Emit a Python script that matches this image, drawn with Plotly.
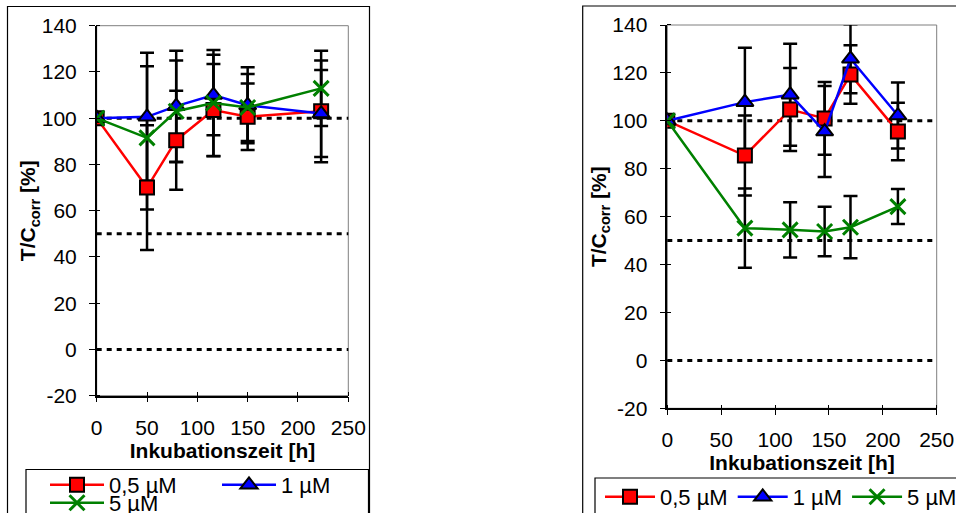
import plotly.graph_objects as go

# ---------------- data ----------------
x_left = [0, 50, 79, 116, 150, 223]
red_left = [100, 70, 90.5, 103.5, 100.6, 103]
red_left_err = [0, 27, 21.4, 19.9, 14.4, 22]
blue_left = [100, 100.6, 105.2, 110, 105.6, 102]
blue_left_err = [0, 27.7, 24, 17.4, 16.4, 18.8]
green_left = [100, 91.5, 103, 106.6, 104.6, 112.9]
green_left_err = [0, 31, 22, 22.9, 14.5, 16.3]

x_right = [0, 72, 114, 146, 170, 214]
red_right = [100, 85.5, 104.7, 101, 119.3, 95.5]
red_right_err = [0, 16.7, 17.3, 15.2, 12.2, 12]
blue_right = [100, 107.8, 110.9, 95.5, 125.9, 102.2]
blue_right_err = [0, 22.7, 21.3, 19, 14.4, 13.8]
green_right = [100, 55.2, 54.5, 53.8, 55.6, 64.2]
green_right_err = [0, 16.5, 11.5, 10.3, 13, 7.3]

series_names = ["0,5 µM", "1 µM", "5 µM"]
ref_lines = [100, 50, 0]
x_ticks = [0, 50, 100, 150, 200, 250]
y_ticks = [-20, 0, 20, 40, 60, 80, 100, 120, 140]
y_tick_labels = ["-20", "0", "20", "40", "60", "80", "100", "120", "140"]

# ---------------- styling ----------------
W, H = 956, 513
FONT = "Liberation Sans, Arial, sans-serif"
FS = 21
LFS = 22
colors = ["#FF0000", "#0000FF", "#008000"]
markers = [
    dict(symbol="square", size=14, line=dict(color="black", width=2)),
    dict(symbol="triangle-up", size=15, line=dict(color="black", width=2)),
    dict(symbol="x-thin", size=15, line=dict(width=3)),
]


def px_x(p):
    return p / W


def px_y(p):
    return 1 - p / H


fig = go.Figure()

panels = [
    dict(xa="x", ya="y", x=x_left,
         ys=[red_left, blue_left, green_left],
         es=[red_left_err, blue_left_err, green_left_err],
         legends=["legend", "legend", "legend3"]),
    dict(xa="x2", ya="y2", x=x_right,
         ys=[red_right, blue_right, green_right],
         es=[red_right_err, blue_right_err, green_right_err],
         legends=["legend2", "legend2", "legend2"]),
]

for p in panels:
    # error bars first (under the lines / markers)
    for ys, es in zip(p["ys"], p["es"]):
        fig.add_trace(go.Scatter(
            x=p["x"], y=ys, xaxis=p["xa"], yaxis=p["ya"], mode="markers",
            marker=dict(size=1, color="rgba(0,0,0,0)"),
            error_y=dict(type="data", array=es, visible=True, color="black",
                         thickness=2.5, width=7),
            showlegend=False, hoverinfo="skip"))
    for i, (ys, name, lg) in enumerate(zip(p["ys"], series_names, p["legends"])):
        mk = dict(markers[i])
        mk["color"] = colors[i]
        if i == 2:
            mk["line"] = dict(color=colors[i], width=3)
        fig.add_trace(go.Scatter(
            x=p["x"], y=ys, xaxis=p["xa"], yaxis=p["ya"], name=name,
            mode="lines+markers", line=dict(color=colors[i], width=2.5),
            marker=mk, legend=lg, showlegend=True))

# axes
left_plot = dict(x0=96.7, x1=348.3, y0=25.7, y1=395.7)
right_plot = dict(x0=667.3, x1=936.7, y0=25.0, y1=408.3)


def xaxis_cfg(dom, anchor):
    return dict(domain=[px_x(dom["x0"]), px_x(dom["x1"])], anchor=anchor,
                range=[0, 250], tickvals=x_ticks, ticks="outside", ticklen=5,
                tickwidth=1.3, tickcolor="black", showline=True, linecolor="black",
                linewidth=1.5, showgrid=False, zeroline=False,
                tickfont=dict(size=FS, color="black"),
                minor=dict(ticks="inside", tickvals=[v + 0.01 for v in x_ticks],
                           ticklen=4, tickwidth=1.3, tickcolor="black", showgrid=False),
                title=dict(text="<b>Inkubationszeit [h]</b>", font=dict(size=FS, color="black"),
                           standoff=3),
                automargin=True, ticklabelstandoff=7)


def yaxis_cfg(dom, anchor):
    return dict(domain=[px_y(dom["y1"]), px_y(dom["y0"])], anchor=anchor,
                range=[-20, 140], tickvals=y_ticks, ticktext=y_tick_labels,
                ticks="outside", ticklen=6,
                tickwidth=1.3, tickcolor="black", showline=True, linecolor="black",
                linewidth=1.5, showgrid=False, zeroline=False,
                tickfont=dict(size=FS, color="black"),
                minor=dict(ticks="inside", tickvals=[v + 0.01 for v in y_ticks],
                           ticklen=4, tickwidth=1.3, tickcolor="black", showgrid=False),
                title=dict(text="<b>T/C<sub>corr</sub> [%]</b>", font=dict(size=FS, color="black"),
                           standoff=0),
                automargin=True, ticklabelstandoff=8)


shapes = []
for xr, yr in [("x", "y"), ("x2", "y2")]:
    # plot-area border (grey)
    shapes.append(dict(type="rect", xref=f"{xr} domain", yref=f"{yr} domain",
                       x0=0, x1=1, y0=0, y1=1, line=dict(color="#7f7f7f", width=1),
                       layer="below"))
    for v in ref_lines:
        shapes.append(dict(type="line", xref=f"{xr} domain", yref=yr, x0=0, x1=1,
                           y0=v, y1=v, line=dict(color="black", width=3, dash="5px,5px"),
                           layer="below"))

# outer chart frames and legend boxes
shapes += [
    dict(type="rect", xref="paper", yref="paper", x0=px_x(7.5), x1=px_x(369.5),
         y0=px_y(530), y1=px_y(6.5), line=dict(color="black", width=1.2)),
    dict(type="rect", xref="paper", yref="paper", x0=px_x(26), x1=px_x(368.5),
         y0=px_y(530), y1=px_y(469.5), line=dict(color="black", width=1.2)),
    dict(type="rect", xref="paper", yref="paper", x0=px_x(582.7), x1=px_x(980),
         y0=px_y(530), y1=px_y(6), line=dict(color="black", width=1.2)),
    dict(type="rect", xref="paper", yref="paper", x0=px_x(595), x1=px_x(980),
         y0=px_y(530), y1=px_y(478), line=dict(color="black", width=1.2)),
]

leg_common = dict(orientation="h", font=dict(size=LFS, color="black", family=FONT),
                  bgcolor="rgba(0,0,0,0)", borderwidth=0, itemwidth=50,
                  xanchor="left", yanchor="middle", tracegroupgap=0)

fig.update_layout(
    width=W, height=H,
    margin=dict(l=0, r=0, t=0, b=0, pad=0, autoexpand=False),
    paper_bgcolor="white", plot_bgcolor="white",
    font=dict(family=FONT, size=FS, color="black"),
    xaxis=xaxis_cfg(left_plot, "y"),
    yaxis=yaxis_cfg(left_plot, "x"),
    xaxis2=xaxis_cfg(right_plot, "y2"),
    yaxis2=yaxis_cfg(right_plot, "x2"),
    shapes=shapes,
    legend=dict(leg_common, x=px_x(45), y=px_y(485), entrywidth=103, itemwidth=54),
    legend3=dict(leg_common, x=px_x(45), y=px_y(503), itemwidth=54),
    legend2=dict(leg_common, x=px_x(600), y=px_y(497)),
)

fig.write_html("out.html")
